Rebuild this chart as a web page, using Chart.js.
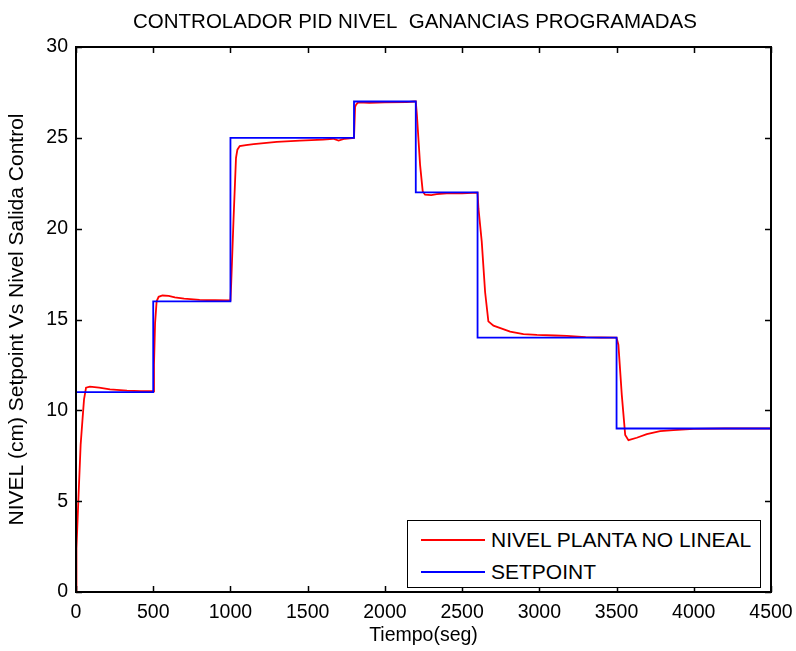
<!DOCTYPE html>
<html>
<head>
<meta charset="utf-8">
<script src="https://cdn.jsdelivr.net/npm/chart.js@4"></script>
<style>
  body { margin: 0; background: #fff; }
  #wrap { position: relative; width: 796px; height: 651px; }
  #legend {
    position: absolute; left: 407px; top: 520px; width: 354px; height: 68px;
    border: 1.5px solid #000; background: #fff; box-sizing: border-box;
    font-family: 'Liberation Sans', Arial, sans-serif; font-size: 21px; color: #000;
  }
  .row { position: absolute; left: 0; height: 24px; line-height: 24px; white-space: nowrap; }
  .swatch { position: absolute; left: 13px; top: 11px; width: 64px; height: 2px; }
  .label { position: absolute; left: 83px; top: 0; }
</style>
</head>
<body>
<div id="wrap">
  <canvas id="chart" width="796" height="651"></canvas>
  <div id="legend">
    <div class="row" style="top:7px"><span class="swatch" style="background:#ff0000"></span><span class="label">NIVEL PLANTA NO LINEAL</span></div>
    <div class="row" style="top:39px"><span class="swatch" style="background:#0000ff"></span><span class="label">SETPOINT</span></div>
  </div>
</div>
<script>
// plant level response (seg, cm)
const sampleTime = [
  0, 3, 15, 30, 43, 52, 65, 90, 150, 220, 330, 420, 500,
  505, 512, 522, 535, 560, 600, 640, 700, 800, 900, 1000,
  1005, 1020, 1036, 1045, 1060, 1100, 1150, 1200, 1300, 1450, 1600, 1665, 1700, 1740, 1800,
  1807, 1815, 1828, 1900, 2000, 2140, 2190, 2200,
  2207, 2228, 2245, 2260, 2300, 2336, 2400, 2500, 2600,
  2606, 2627, 2649, 2670, 2703, 2757, 2811, 2897, 2984, 3100, 3178, 3300, 3400, 3500,
  3512, 3534, 3556, 3577, 3631, 3696, 3782, 3868, 4000, 4200, 4500
];
const plantLevel = [
  0, 2.4, 5.0, 8.1, 9.6, 10.6, 11.25, 11.3, 11.25, 11.15, 11.08, 11.06, 11.05,
  12.5, 14.8, 16.0, 16.25, 16.32, 16.3, 16.22, 16.15, 16.08, 16.06, 16.05,
  17.0, 20.5, 23.9, 24.35, 24.55, 24.6, 24.65, 24.7, 24.78, 24.85, 24.9, 24.95, 24.85, 24.95, 25.0,
  26.7, 26.85, 26.95, 26.93, 26.95, 26.97, 27.0, 27.0,
  26.3, 23.5, 22.05, 21.87, 21.85, 21.9, 21.95, 21.95, 21.98,
  21.1, 19.3, 16.5, 14.9, 14.66, 14.5, 14.33, 14.2, 14.15, 14.12, 14.1, 14.03, 14.01, 14.0,
  13.6, 10.84, 8.64, 8.36, 8.49, 8.69, 8.86, 8.91, 8.98, 9.0, 9.0
];

// setpoint steps (value held from each time until the next one)
const setpointTime = [0, 500, 1000, 1800, 2200, 2600, 3500, 4500];
const setpointLevel = [11, 16, 25, 27, 22, 14, 9, 9];

const FONT = "'Liberation Sans', Arial, sans-serif";
const toXY = (xs, ys) => xs.map((x, i) => ({ x, y: ys[i] }));

// box frame + inward ticks on all four sides, matlab style
const frame = {
  id: 'frame',
  afterDatasetsDraw(chart) {
    const { ctx, chartArea: a, scales } = chart;
    ctx.save();
    ctx.strokeStyle = '#000';
    ctx.lineWidth = 1.5;
    const tl = 6;
    ctx.beginPath();
    scales.x.ticks.forEach(t => {
      const px = Math.round(scales.x.getPixelForValue(t.value)) + 0.5;
      ctx.moveTo(px, a.bottom); ctx.lineTo(px, a.bottom - tl);
      ctx.moveTo(px, a.top); ctx.lineTo(px, a.top + tl);
    });
    scales.y.ticks.forEach(t => {
      const py = Math.round(scales.y.getPixelForValue(t.value)) + 0.5;
      ctx.moveTo(a.left, py); ctx.lineTo(a.left + tl, py);
      ctx.moveTo(a.right, py); ctx.lineTo(a.right - tl, py);
    });
    ctx.stroke();
    ctx.lineWidth = 2;
    ctx.strokeRect(a.left, a.top, a.right - a.left, a.bottom - a.top);
    ctx.restore();
  }
};

new Chart(document.getElementById('chart'), {
  type: 'line',
  data: {
    datasets: [{
      label: 'NIVEL PLANTA NO LINEAL',
      data: toXY(sampleTime, plantLevel),
      borderColor: '#ff0000',
      borderWidth: 1.8,
      pointRadius: 0,
      tension: 0,
      order: 2
    }, {
      label: 'SETPOINT',
      data: toXY(setpointTime, setpointLevel),
      borderColor: '#0000ff',
      borderWidth: 1.8,
      pointRadius: 0,
      stepped: 'before',
      order: 1
    }]
  },
  options: {
    responsive: false,
    animation: false,
    events: [],
    layout: { padding: { left: 0, right: 25, top: 0, bottom: 0 } },
    plugins: {
      legend: { display: false },
      tooltip: { enabled: false },
      title: {
        display: true,
        fullSize: false,
        // trailing blanks as in the original, they push the title a bit left
        text: 'CONTROLADOR PID NIVEL  GANANCIAS PROGRAMADAS   ',
        color: '#000',
        font: { family: FONT, size: 20.5, weight: 'normal' },
        padding: { top: 10, bottom: 12.4 }
      }
    },
    scales: {
      x: {
        type: 'linear',
        min: 0, max: 4500,
        grid: { display: false, drawTicks: false },
        border: { display: false },
        ticks: {
          stepSize: 500, color: '#000', padding: 9, maxRotation: 0,
          font: { family: FONT, size: 19.5 },
          callback: v => String(v)
        },
        title: {
          display: true, text: 'Tiempo(seg)', color: '#000',
          font: { family: FONT, size: 19.5 }, padding: { top: 0, bottom: 4 }
        },
        afterFit(s) { s.height = 59; s.paddingLeft = 0; s.paddingRight = 0; }
      },
      y: {
        min: 0, max: 30,
        grid: { display: false, drawTicks: false },
        border: { display: false },
        ticks: {
          stepSize: 5, color: '#000', padding: 8,
          font: { family: FONT, size: 19.5 },
          callback: v => String(v)
        },
        title: {
          display: true, text: 'NIVEL (cm) Setpoint Vs Nivel Salida Control', color: '#000',
          font: { family: FONT, size: 21 }, padding: { top: 5, bottom: 0 }
        },
        afterFit(s) { s.width = 76; }
      }
    }
  },
  plugins: [frame]
});
</script>
</body>
</html>
